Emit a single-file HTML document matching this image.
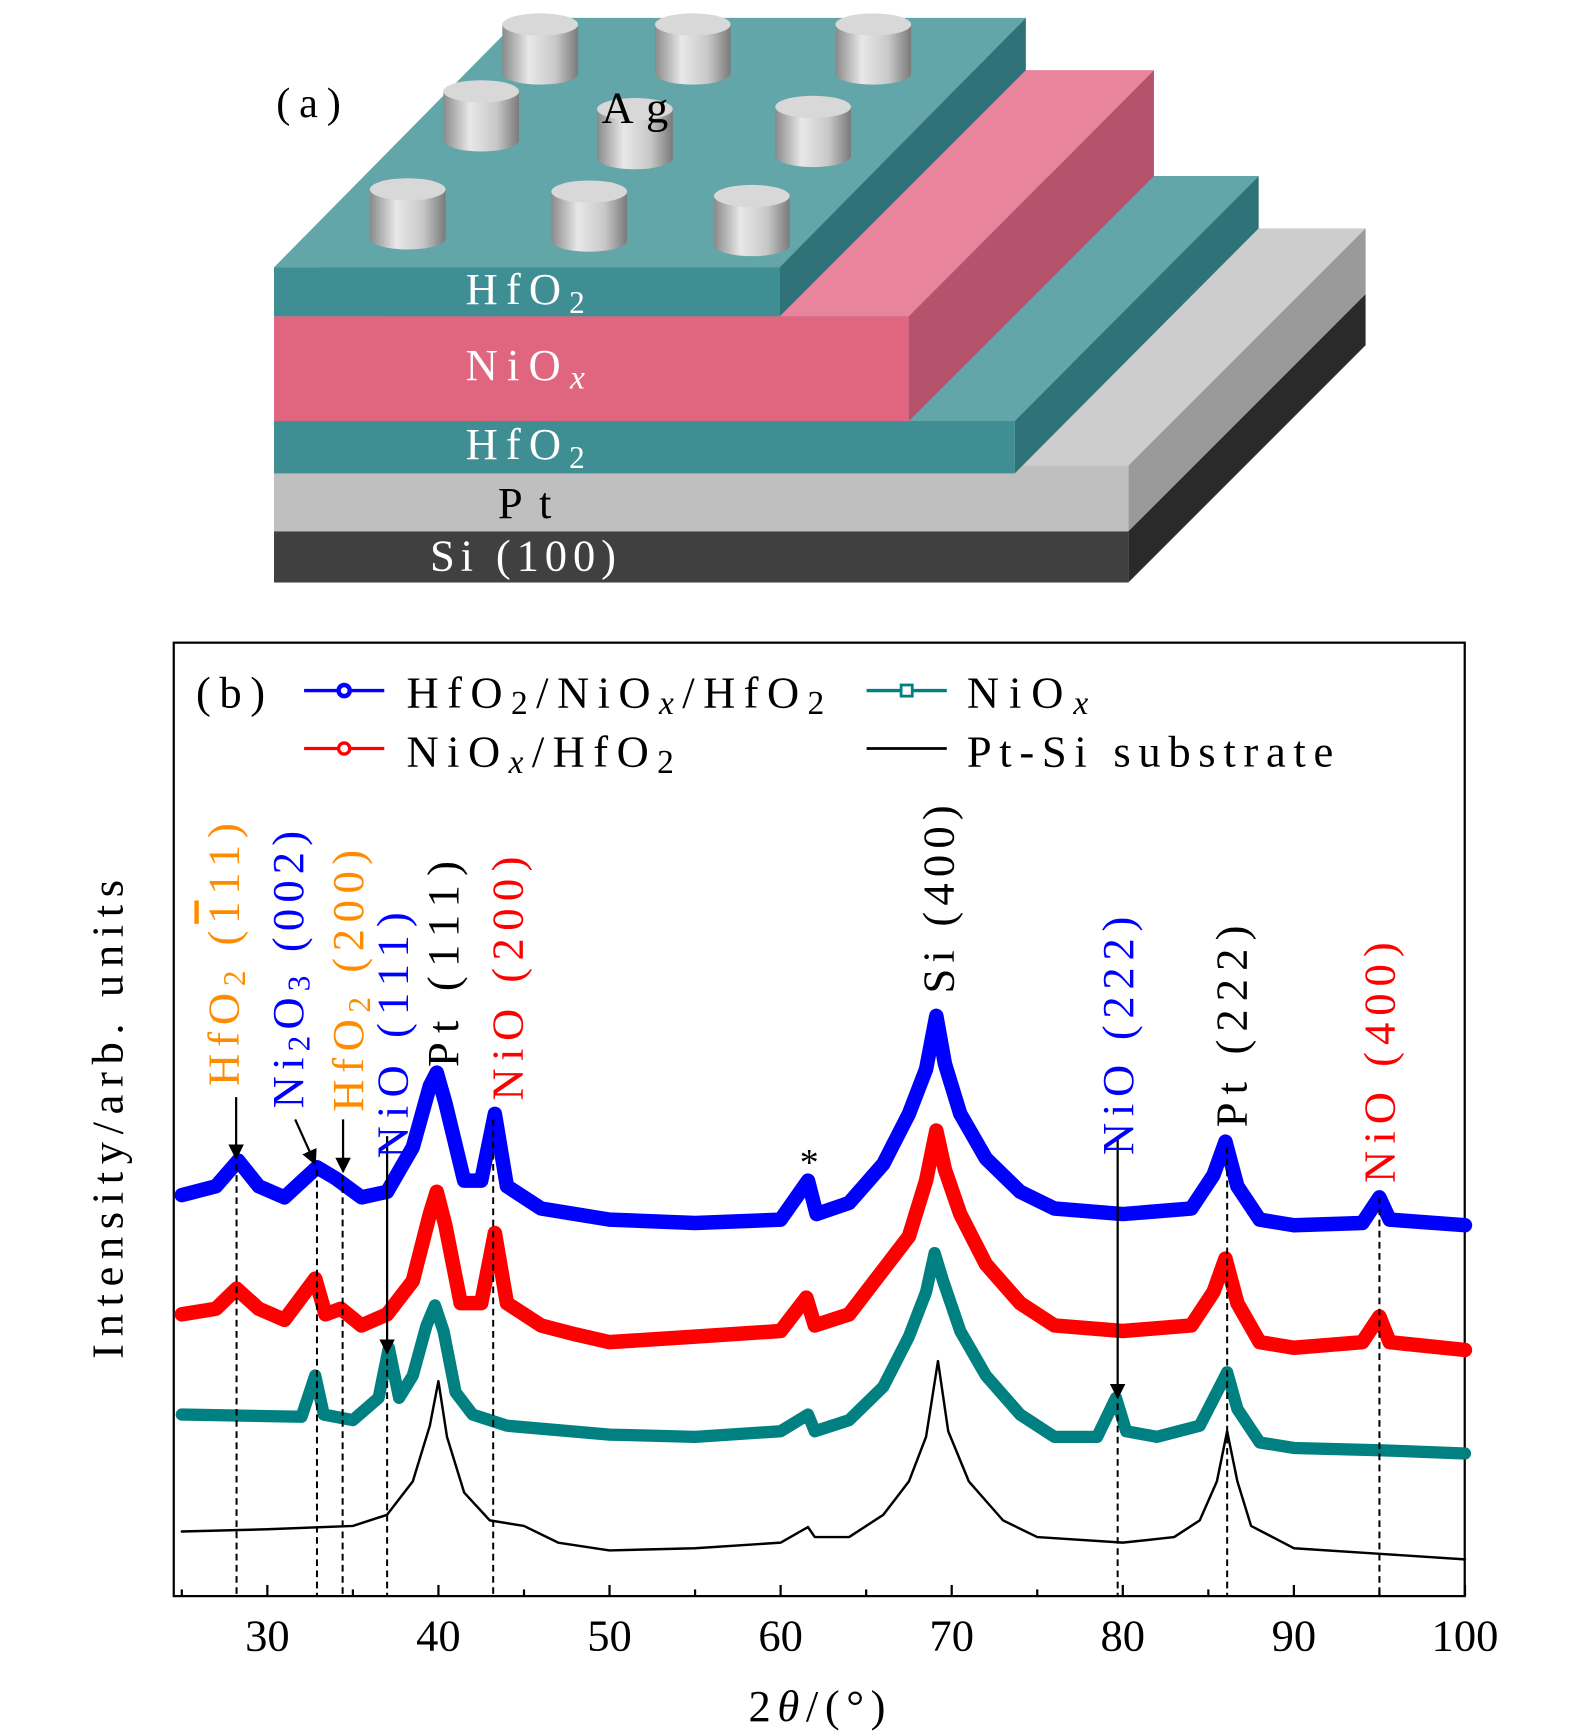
<!DOCTYPE html>
<html><head><meta charset="utf-8"><style>
html,body{margin:0;padding:0;background:#fff;}
svg{display:block;font-family:"Liberation Serif",serif;}
</style></head><body>
<svg id="fig" width="1575" height="1732" viewBox="0 0 1414 1555" preserveAspectRatio="none">
<defs>
<linearGradient id="cyl" x1="0" x2="1" y1="0" y2="0">
<stop offset="0" stop-color="#8a8a8a"/><stop offset="0.35" stop-color="#e8e8e8"/><stop offset="0.7" stop-color="#c8c8c8"/><stop offset="1" stop-color="#7a7a7a"/></linearGradient>
<marker id="ah" viewBox="0 0 10 10" refX="9" refY="5" markerWidth="7" markerHeight="7" orient="auto"><path d="M0,0 L10,5 L0,10 z" fill="#000"/></marker>
</defs>
<g>
<polygon points="1013,477 1226,264 1226,310 1013,523" fill="#2a2a2a"/>
<rect x="246" y="477" width="767" height="46" fill="#404040"/>
<polygon points="246,418 1013,418 1226,205 459,205" fill="#cdcdcd"/>
<polygon points="1013,418 1226,205 1226,264 1013,477" fill="#9a9a9a"/>
<rect x="246" y="418" width="767" height="59" fill="#bfbfbf"/>
<polygon points="246,378 911,378 1130,158 465,158" fill="#62a6aa"/>
<polygon points="911,378 1130,158 1130,205 911,425" fill="#2f7378"/>
<rect x="246" y="378" width="665" height="47" fill="#3f8e93"/>
<polygon points="246,284 816,284 1036,63 466,63" fill="#e8859c"/>
<polygon points="816,284 1036,63 1036,158 816,378" fill="#b5526c"/>
<rect x="246" y="284" width="570" height="94" fill="#e06680"/>
<polygon points="246,240 700,240 921,16 467,16" fill="#62a6aa"/>
<polygon points="700,240 921,16 921,63 700,284" fill="#2f7378"/>
<rect x="246" y="240" width="454" height="44" fill="#3f8e93"/>
<g id="cyls"></g>
<text x="248" y="105" font-size="38" textLength="58" lengthAdjust="spacing">(a)</text>
<text x="540" y="110" font-size="40" textLength="60" lengthAdjust="spacing">Ag</text>
<text x="418" y="273" font-size="40" fill="#fff" textLength="107" lengthAdjust="spacing">HfO<tspan font-size="28" dy="8">2</tspan></text>
<text x="418" y="341" font-size="40" fill="#fff" textLength="107" lengthAdjust="spacing">NiO<tspan font-size="30" dy="8" font-style="italic">x</tspan></text>
<text x="418" y="412" font-size="40" fill="#fff" textLength="107" lengthAdjust="spacing">HfO<tspan font-size="28" dy="8">2</tspan></text>
<text x="447" y="465" font-size="40" fill="#000" textLength="48" lengthAdjust="spacing">Pt</text>
<text x="386" y="512" font-size="40" fill="#fff" textLength="167" lengthAdjust="spacing">Si (100)</text>
</g>
<g id="chart">
<rect x="156" y="577" width="1159" height="856" fill="none" stroke="#000" stroke-width="2"/>
<g id="series"></g>
<g id="anno"></g>
<g id="ticks"></g>
<g font-size="40" letter-spacing="1">
<text transform="translate(214,975) rotate(-90)" fill="#ff8c00" textLength="237" lengthAdjust="spacing">HfO<tspan font-size="28" dy="6">2</tspan><tspan dy="-6"> (</tspan><tspan text-decoration="overline">1</tspan><tspan>11)</tspan></text>
<text transform="translate(272,995) rotate(-90)" fill="#0000ff" textLength="250" lengthAdjust="spacing">Ni<tspan font-size="28" dy="6">2</tspan><tspan dy="-6">O</tspan><tspan font-size="28" dy="6">3</tspan><tspan dy="-6"> (002)</tspan></text>
<text transform="translate(326,998) rotate(-90)" fill="#ff8c00" textLength="236" lengthAdjust="spacing">HfO<tspan font-size="28" dy="6">2</tspan><tspan dy="-6"> (200)</tspan></text>
<text transform="translate(366,1040) rotate(-90)" fill="#0000ff" textLength="222" lengthAdjust="spacing">NiO (111)</text>
<text transform="translate(411,958) rotate(-90)" fill="#000" textLength="186" lengthAdjust="spacing">Pt (111)</text>
<text transform="translate(469,988) rotate(-90)" fill="#ff0000" textLength="220" lengthAdjust="spacing">NiO (200)</text>
<text transform="translate(856,892) rotate(-90)" fill="#000" textLength="170" lengthAdjust="spacing">Si (400)</text>
<text transform="translate(1017,1037) rotate(-90)" fill="#0000ff" textLength="215" lengthAdjust="spacing">NiO (222)</text>
<text transform="translate(1119,1012) rotate(-90)" fill="#000" textLength="182" lengthAdjust="spacing">Pt (222)</text>
<text transform="translate(1252,1062) rotate(-90)" fill="#ff0000" textLength="217" lengthAdjust="spacing">NiO (400)</text>
<text x="727" y="1055" font-size="34" text-anchor="middle">*</text>
</g>
<text x="176" y="635" font-size="40" textLength="62" lengthAdjust="spacing">(b)</text>
<g>
<g><line x1="273" y1="620" x2="345" y2="620" stroke="#0000ff" stroke-width="3"/><circle cx="309" cy="620" r="5" fill="#fff" stroke="#0000ff" stroke-width="4"/>
<text x="365" y="635" font-size="40" textLength="375" lengthAdjust="spacing">HfO<tspan font-size="30" dy="6">2</tspan><tspan dy="-6">/NiO</tspan><tspan font-size="30" dy="6" font-style="italic">x</tspan><tspan dy="-6">/HfO</tspan><tspan font-size="30" dy="6">2</tspan></text></g>
<g><line x1="273" y1="672" x2="345" y2="672" stroke="#ff0000" stroke-width="3"/><circle cx="309" cy="672" r="5" fill="#fff" stroke="#ff0000" stroke-width="3"/>
<text x="365" y="688" font-size="40" textLength="240" lengthAdjust="spacing">NiO<tspan font-size="30" dy="6" font-style="italic">x</tspan><tspan dy="-6">/HfO</tspan><tspan font-size="30" dy="6">2</tspan></text></g>
<g><line x1="778" y1="620" x2="850" y2="620" stroke="#008080" stroke-width="3"/><rect x="809" y="615" width="10" height="10" fill="#fff" stroke="#008080" stroke-width="2.5"/>
<text x="868" y="635" font-size="40" textLength="109" lengthAdjust="spacing">NiO<tspan font-size="30" dy="6" font-style="italic">x</tspan></text></g>
<g><line x1="778" y1="672" x2="850" y2="672" stroke="#000" stroke-width="2.5"/>
<text x="868" y="688" font-size="40" textLength="329" lengthAdjust="spacing">Pt-Si substrate</text></g>
</g>
<text x="672" y="1545" font-size="40" textLength="123" lengthAdjust="spacing">2<tspan font-style="italic">θ</tspan>/(°)</text>
<text transform="translate(110,1220) rotate(-90)" font-size="40" textLength="430" lengthAdjust="spacing">Intensity/arb. units</text>
</g>
<script>
const NS='http://www.w3.org/2000/svg';
const xTicks=[30,40,50,60,70,80,90,100];
const xMinor=[25,35,45,55,65,75,85,95];
const blackX=[25,30,35,37,38.5,39.5,40,40.5,41.5,43,45,47,50,55,60,61.6,62,64,66,67.5,68.5,69.2,69.8,71,73,75,80,83,84.5,85.5,86.1,86.7,87.5,90,95,100];
const blackY=[58,60,63,73,103,153,193,143,93,68,63,48,41,43,48,62,53,53,73,103,143,211,148,103,68,53,48,53,68,103,148,103,63,43,38,33];
const tealX=[25,32,32.8,33.3,35,36.5,37.1,37.7,38.5,39.3,39.8,40.3,41,42,44,50,55,60,61.6,62,64,66,67.5,68.5,69,69.5,70.5,72,74,76,78.5,79.6,80.2,82,84.5,85.5,86.1,86.7,88,90,95,100];
const tealY=[163,161,198,163,158,178,223,178,198,243,261,238,183,163,153,145,143,148,163,148,158,188,233,273,308,283,238,198,163,143,143,178,148,143,153,183,201,168,138,133,131,128];
const redX=[25,27,28.2,29.5,31,32.8,33.4,34.3,35.5,37,38.5,39.5,39.9,40.4,41.3,42.5,43.3,44,46,48,50,55,60,61.5,62,64,66,67.5,68.5,69.1,69.6,70.5,72,74,76,80,84,85.3,86,86.7,88,90,94,95,95.6,100];
const redY=[253,258,276,258,248,285,253,258,243,253,283,343,363,333,263,263,326,263,243,235,228,233,238,268,243,253,293,323,373,418,383,343,298,263,243,238,243,273,303,263,228,223,228,251,228,221];
const blueX=[25,27,28.3,29.5,31,32.9,34,35.5,37,38.5,39.5,39.9,40.4,41.5,42.5,43.3,44,46,50,55,60,61.6,62.1,64,66,67.5,68.5,69.1,69.6,70.5,72,74,76,80,84,85.3,86,86.7,88,90,94,95,95.6,100];
const blueY=[360,368,391,368,358,385,375,358,363,403,458,470,443,373,373,433,368,348,338,335,338,373,343,353,388,433,473,521,478,433,393,363,348,343,348,378,408,368,338,333,335,358,338,333];
const X0=156,PX=15.36,XV0=24.53,YB=1433;
const sx=v=>X0+(v-XV0)*PX;
const sy=v=>YB-v;
const series=document.getElementById('series');
function path(xs,ys,color,w,name){
  const p=document.createElementNS(NS,'path');
  let d='';xs.forEach((x,i)=>{d+=(i?'L':'M')+sx(x).toFixed(1)+','+sy(ys[i]).toFixed(1);});
  p.setAttribute('d',d);p.setAttribute('fill','none');p.setAttribute('stroke',color);
  p.setAttribute('stroke-width',w);p.setAttribute('stroke-linejoin','round');p.setAttribute('stroke-linecap','round');
  
  
  series.appendChild(p);
}
path(blackX,blackY,'#000',2.2,'series-pt-si-substrate');
path(tealX,tealY,'#008080',11,'series-niox');
path(redX,redY,'#ff0000',13,'series-niox-hfo2');
path(blueX,blueY,'#0000ff',13,'series-hfo2-niox-hfo2');
const tk=document.getElementById('ticks');
xTicks.forEach(v=>{
  const l=document.createElementNS(NS,'line');
  l.setAttribute('x1',sx(v));l.setAttribute('x2',sx(v));l.setAttribute('y1',YB);l.setAttribute('y2',YB-10);
  l.setAttribute('stroke','#000');l.setAttribute('stroke-width','2');
  
  
  tk.appendChild(l);
  const t=document.createElementNS(NS,'text');
  t.setAttribute('x',sx(v));t.setAttribute('y',1482);t.setAttribute('font-size','40');t.setAttribute('text-anchor','middle');
  t.textContent=v;
  
  
  tk.appendChild(t);
});
xMinor.forEach(v=>{
  const l=document.createElementNS(NS,'line');
  l.setAttribute('x1',sx(v));l.setAttribute('x2',sx(v));l.setAttribute('y1',YB);l.setAttribute('y2',YB-6);
  l.setAttribute('stroke','#000');l.setAttribute('stroke-width','2');
  
  
  tk.appendChild(l);
});
const an=document.getElementById('anno');
const dashX=[28.2,32.9,34.4,37.0,43.2,79.7,86.1,95.0];
const dashTop=[1045,1050,1055,1220,1005,1260,1030,1075];
dashX.forEach((v,i)=>{
  const l=document.createElementNS(NS,'line');
  l.setAttribute('x1',sx(v));l.setAttribute('x2',sx(v));l.setAttribute('y1',dashTop[i]);l.setAttribute('y2',YB);
  l.setAttribute('stroke','#000');l.setAttribute('stroke-width','1.8');l.setAttribute('stroke-dasharray','6,4');
  
  
  an.appendChild(l);
});
function arrow(x1,y1,x2,y2){
  const l=document.createElementNS(NS,'line');
  l.setAttribute('x1',x1);l.setAttribute('y1',y1);l.setAttribute('x2',x2);l.setAttribute('y2',y2);
  l.setAttribute('stroke','#000');l.setAttribute('stroke-width','2');l.setAttribute('marker-end','url(#ah)');
  
  
  an.appendChild(l);
}
arrow(212,985,212,1040);arrow(265,1005,283,1045);arrow(308,1005,308,1052);
arrow(sx(37),1020,sx(37),1215);arrow(sx(79.7),1020,sx(79.7),1255);
const cyl=document.getElementById('cyls');
const cylX=[485,622,784,432,570,730,366,529,675];
const cylY=[22,22,22,82,98,96,170,172,176];
cylX.forEach((cx,i)=>{
  const cy=cylY[i],rx=34,ry=10,h=44;
  const g=document.createElementNS(NS,'g');
  
  
  const body=document.createElementNS(NS,'path');
  body.setAttribute('d','M'+(cx-rx)+','+cy+' L'+(cx-rx)+','+(cy+h)+' A'+rx+','+ry+' 0 0 0 '+(cx+rx)+','+(cy+h)+' L'+(cx+rx)+','+cy+' Z');
  body.setAttribute('fill','url(#cyl)');
  g.appendChild(body);
  const top=document.createElementNS(NS,'ellipse');
  top.setAttribute('cx',cx);top.setAttribute('cy',cy);top.setAttribute('rx',rx);top.setAttribute('ry',ry);
  top.setAttribute('fill','#d8d8d8');
  g.appendChild(top);
  cyl.appendChild(g);
});
</script>
</svg>
</body></html>
